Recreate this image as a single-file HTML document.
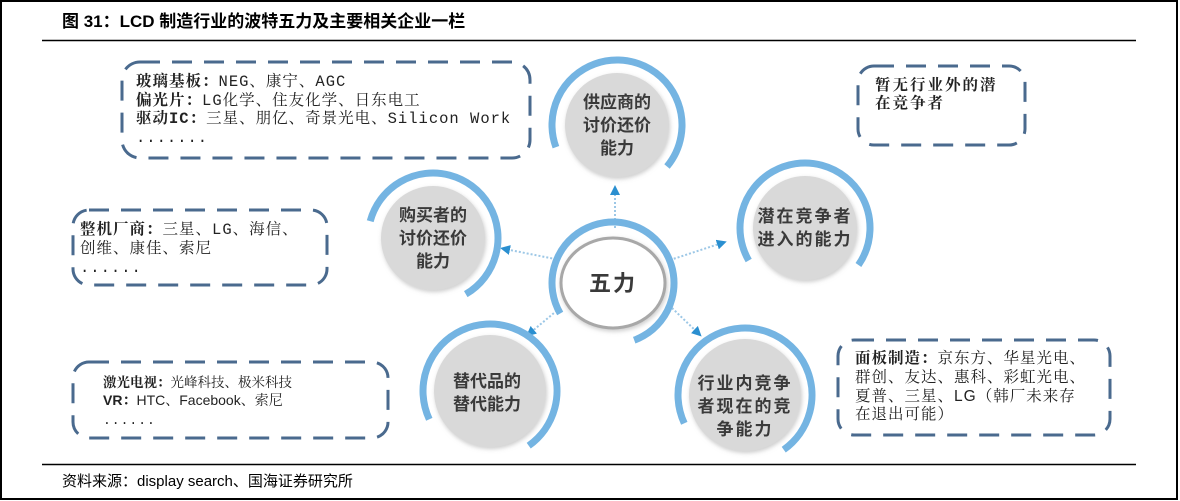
<!DOCTYPE html>
<html><head><meta charset="utf-8"><style>
html,body{margin:0;padding:0;background:#fff;}
svg{display:block;}
.t{font-family:"Liberation Sans","Noto Sans CJK SC",sans-serif;}
.k{font-family:"Liberation Mono","Noto Serif CJK SC",serif;font-size:15.5px;fill:#222;letter-spacing:1px;}
.kb{font-weight:bold;}
.n{font-family:"Liberation Sans","Noto Sans CJK SC",sans-serif;font-size:17px;font-weight:bold;fill:#3a3a3a;text-anchor:middle;}
.box{fill:none;stroke:#4a6a8e;stroke-width:3;stroke-dasharray:20 12;}
.arc{fill:none;stroke:#74b4e2;stroke-width:7;}
.ln{stroke:#9cc7e6;stroke-width:2;stroke-dasharray:2 2;}
</style></head><body>
<svg width="1180" height="501" viewBox="0 0 1180 501">
<rect x="1" y="1" width="1176" height="498" fill="#fff" stroke="#000" stroke-width="2"/>
<text class="t" x="62" y="27" font-size="17" font-weight="bold" fill="#000">图 31：LCD 制造行业的波特五力及主要相关企业一栏</text>
<line x1="42" y1="40.5" x2="1136" y2="40.5" stroke="#000" stroke-width="1.5"/>
<line x1="42" y1="464.5" x2="1136" y2="464.5" stroke="#000" stroke-width="1.5"/>
<text class="t" x="62" y="486" font-size="15" fill="#000">资料来源：display search、国海证券研究所</text>

<defs>
<marker id="ah" viewBox="0 0 10 10" refX="5" refY="5" markerWidth="5" markerHeight="5" orient="auto">
<path d="M0,0 L10,5 L0,10 z" fill="#2a8fd0"/></marker>
<filter id="sh"><feDropShadow dx="1" dy="2" stdDeviation="2" flood-color="#999" flood-opacity="0.5"/></filter>
</defs>

<rect class="box" x="122" y="62" width="408" height="96" rx="18"/>
<rect class="box" x="73" y="210" width="254" height="75" rx="16"/>
<rect class="box" x="858" y="66" width="167" height="79" rx="16"/>
<rect class="box" x="73" y="362" width="315" height="76" rx="16"/>
<rect class="box" x="838" y="340" width="272" height="95" rx="16"/>

<text class="k" x="136" y="86"><tspan class="kb">玻璃基板：</tspan>NEG、康宁、AGC</text>
<text class="k" x="136" y="105"><tspan class="kb">偏光片：</tspan>LG化学、住友化学、日东电工</text>
<text class="k" x="136" y="123"><tspan class="kb">驱动IC：</tspan>三星、朋亿、奇景光电、Silicon Work</text>
<text class="k" x="136" y="142">.......</text>

<text class="k" x="80" y="234"><tspan class="kb">整机厂商：</tspan>三星、LG、海信、</text>
<text class="k" x="80" y="253">创维、康佳、索尼</text>
<text class="k" x="80" y="272">......</text>

<text class="k kb" x="875" y="90" style="letter-spacing:2px">暂无行业外的潜</text>
<text class="k kb" x="875" y="108" style="letter-spacing:2px">在竞争者</text>

<text class="k" x="103" y="387" style="font-size:13.5px;letter-spacing:0"><tspan class="kb">激光电视：</tspan>光峰科技、极米科技</text>
<text class="k" x="103" y="405" style="font-size:14px;letter-spacing:0;font-family:'Liberation Sans','Noto Serif CJK SC',sans-serif"><tspan class="kb">VR：</tspan>HTC、Facebook、索尼</text>
<text class="k" x="103" y="424" style="font-size:13px;letter-spacing:1px">......</text>

<text class="k" x="855" y="363"><tspan class="kb">面板制造：</tspan>京东方、华星光电、</text>
<text class="k" x="855" y="382">群创、友达、惠科、彩虹光电、</text>
<text class="k" x="855" y="401">夏普、三星、<tspan style="font-family:'Liberation Sans',sans-serif">LG</tspan>（韩厂未来存</text>
<text class="k" x="855" y="419">在退出可能）</text>

<line class="ln" x1="615" y1="228" x2="615" y2="190" marker-end="url(#ah)"/>
<line class="ln" x1="560" y1="260" x2="505" y2="249" marker-end="url(#ah)"/>
<line class="ln" x1="670" y1="260" x2="722" y2="243" marker-end="url(#ah)"/>
<line class="ln" x1="560" y1="308" x2="530" y2="333" marker-end="url(#ah)"/>
<line class="ln" x1="672" y1="308" x2="698" y2="333" marker-end="url(#ah)"/>

<circle cx="617" cy="125" r="52" fill="#d9d9d9" filter="url(#sh)"/>
<circle class="arc" cx="617" cy="125" r="65" pathLength="360" stroke-dasharray="240 360" transform="rotate(160 617 125)"/>
<text class="n" x="617" y="108">供应商的</text><text class="n" x="617" y="131">讨价还价</text><text class="n" x="617" y="154">能力</text>

<circle cx="433" cy="238" r="52" fill="#d9d9d9" filter="url(#sh)"/>
<circle class="arc" cx="433" cy="238" r="65" pathLength="360" stroke-dasharray="225 360" transform="rotate(195 433 238)"/>
<text class="n" x="433" y="221">购买者的</text><text class="n" x="433" y="244">讨价还价</text><text class="n" x="433" y="267">能力</text>

<circle cx="805" cy="228" r="52" fill="#d9d9d9" filter="url(#sh)"/>
<circle class="arc" cx="805" cy="228" r="65" pathLength="360" stroke-dasharray="245 360" transform="rotate(150 805 228)"/>
<text class="n" x="805" y="222" style="letter-spacing:2px">潜在竞争者</text><text class="n" x="805" y="245" style="letter-spacing:2px">进入的能力</text>

<circle cx="490" cy="391" r="56" fill="#d9d9d9" filter="url(#sh)"/>
<circle class="arc" cx="490" cy="391" r="67" pathLength="360" stroke-dasharray="260 360" transform="rotate(155 490 391)"/>
<text class="n" x="487" y="387">替代品的</text><text class="n" x="487" y="410">替代能力</text>

<circle cx="745" cy="395" r="56" fill="#d9d9d9" filter="url(#sh)"/>
<circle class="arc" cx="745" cy="395" r="67" pathLength="360" stroke-dasharray="260 360" transform="rotate(155 745 395)"/>
<text class="n" x="745" y="389" style="letter-spacing:2px">行业内竞争</text><text class="n" x="745" y="412" style="letter-spacing:2px">者现在的竞</text><text class="n" x="745" y="435" style="letter-spacing:2px">争能力</text>

<ellipse cx="613" cy="283" rx="52" ry="45" fill="#fff" stroke="#a8a8a8" stroke-width="3" filter="url(#sh)"/>
<circle class="arc" cx="613" cy="283" r="61" pathLength="360" stroke-dasharray="280 360" transform="rotate(150 613 283)"/>
<text class="n" x="613" y="291" style="font-size:22px;letter-spacing:2px">五力</text>
</svg>
</body></html>
